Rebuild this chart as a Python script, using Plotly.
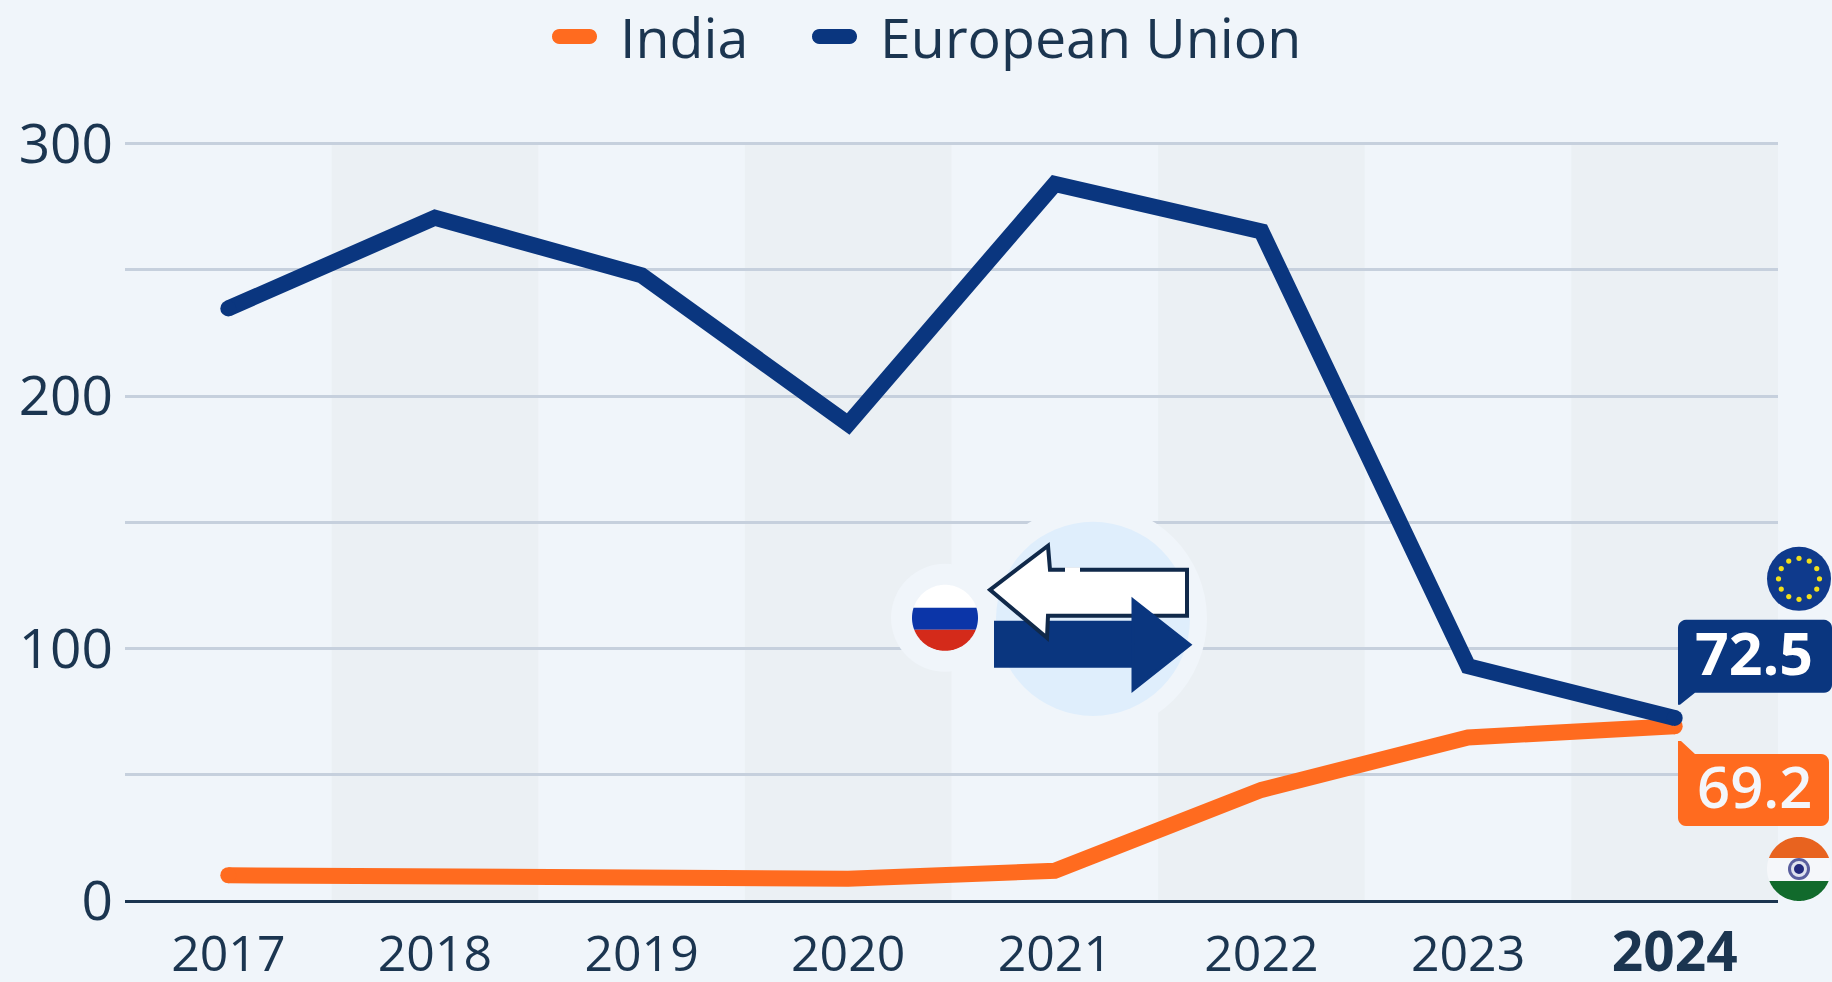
import math
import plotly.graph_objects as go

years = [2017, 2018, 2019, 2020, 2021, 2022, 2023, 2024]
india = [10.2, 9.4, 9.4, 8.8, 12.0, 44.0, 64.8, 69.2]
eu = [234.7, 270.6, 247.8, 188.9, 284.0, 265.2, 93.0, 72.5]
band_years = [2018, 2020, 2022, 2024]
y_ticks = [0, 50, 100, 150, 200, 250, 300]
y_labels = ["0", "", "100", "", "200", "", "300"]
x_labels = ["2017", "2018", "2019", "2020", "2021", "2022", "2023",
            '<b><span style="font-size:55px">2024</span></b>']
last_labels = {"India": "69.2", "European Union": "72.5"}

W, H = 1832, 982
Y_TOP = 301  # a hair above the top gridline so that it is still drawn
L, R, B = 125, 1778, 901
T = B - (B - 144) * Y_TOP / 300
BG = "#f0f5fa"
BAND = "#ebf0f4"
GRID = "#c6d0dd"
INK = "#1b3550"
NAVY = "#0a367f"
ORANGE = "#ff6b1f"
FONT = "Open Sans"


def px(x):
    return (x - L) / (R - L)


def py(y):
    return (B - y) / (B - T)


def path(points, close=True):
    s = "M" + " L".join(f"{px(x):.5f},{py(y):.5f}" for x, y in points)
    return s + (" Z" if close else "")


def shape(points, fill, line=None, lw=0, close=True):
    return dict(type="path", xref="paper", yref="paper", path=path(points, close), layer="above",
                fillcolor=fill if close else "rgba(0,0,0,0)",
                line=dict(color=line or "rgba(0,0,0,0)", width=lw))


def circle(cx, cy, r, fill):
    return dict(type="circle", xref="paper", yref="paper", layer="above", x0=px(cx - r), x1=px(cx + r),
                y0=py(cy + r), y1=py(cy - r), fillcolor=fill, line=dict(width=0))


def band(cx, cy, r, y0, y1, fill):
    """Part of a disc between two horizontal lines."""
    a0 = math.asin(max(-1, min(1, (y0 - cy) / r)))
    a1 = math.asin(max(-1, min(1, (y1 - cy) / r)))
    n = 40
    right = [a0 + (a1 - a0) * i / n for i in range(n + 1)]
    pts = [(cx + r * math.cos(a), cy + r * math.sin(a)) for a in right]
    pts += [(cx - r * math.cos(a), cy + r * math.sin(a)) for a in reversed(right)]
    return shape(pts, fill)


def rounded(x0, y0, x1, y1, r, fill, tail=None, tail_side="bottom"):
    pts = []
    def corner(cx, cy, start):
        for i in range(7):
            a = math.radians(start + 15 * i)
            pts.append((cx + r * math.cos(a), cy + r * math.sin(a)))
    corner(x1 - r, y1 - r, 0)
    if tail and tail_side == "bottom":
        pts.extend(tail)
    else:
        corner(x0 + r, y1 - r, 90)
    if tail and tail_side == "top":
        pts.extend(tail)
    else:
        corner(x0 + r, y0 + r, 180)
    corner(x1 - r, y0 + r, 270)
    return shape(pts, fill)


fig = go.Figure()
for name, values, color, lw in [("India", india, ORANGE, 16), ("European Union", eu, NAVY, 16)]:
    sizes = [lw if i in (0, len(values) - 1) else 0 for i in range(len(values))]
    fig.add_trace(go.Scatter(x=years, y=values, name=name, mode="lines+markers", showlegend=False,
                             line=dict(color=color, width=lw),
                             marker=dict(color=color, size=sizes, opacity=1, line=dict(width=0))))

shapes = []
for yr in band_years:
    shapes.append(dict(type="rect", xref="x", yref="y", x0=yr - 0.5, x1=yr + 0.5, y0=0, y1=300,
                       fillcolor=BAND, line=dict(width=0), layer="below"))

# exchange icon
shapes.append(circle(1092, 619, 115, BG))
shapes.append(circle(945, 618, 54, BG))
shapes.append(circle(1093, 619, 97, "#dfeefc"))
shapes.append(band(945, 618, 33, 585, 608, "#ffffff"))
shapes.append(band(945, 618, 33, 608, 630, "#0b35a8"))
shapes.append(band(945, 618, 33, 630, 651, "#d42a1a"))
shapes.append(shape([(995, 622), (1134, 622), (1134, 667), (995, 667)], NAVY, NAVY, 2))
shapes.append(shape([(990, 590), (1048, 546), (1050, 570), (1187, 570), (1187, 616), (1048, 616), (1047, 638)],
                    "#ffffff", "#10294a", 4))
shapes.append(shape([(1065, 570), (1080, 570)], "#ffffff", "#ffffff", 5, close=False))
shapes.append(shape([(1133, 600), (1190, 645), (1133, 690)], NAVY, NAVY, 3))

# flags and callouts
shapes.append(circle(1799, 579, 32, "#0f3a8c"))
shapes.append(rounded(1678, 620, 1832, 693, 8, NAVY, tail=[(1695, 693), (1680, 705), (1678, 705)], tail_side="bottom"))
shapes.append(rounded(1678, 754, 1829, 826, 8, ORANGE, tail=[(1678, 741), (1681, 741), (1695, 754)], tail_side="top"))
shapes.append(band(1799, 869, 32, 837, 858, "#e8631f"))
shapes.append(band(1799, 869, 32, 858, 881, "#f5f7fa"))
shapes.append(band(1799, 869, 32, 881, 901, "#116a2c"))
shapes.append(circle(1799, 869, 11, "#5a5f9e"))
shapes.append(circle(1799, 869, 8, "#dfe2ee"))
shapes.append(circle(1799, 869, 5, "#232a7c"))
for i in range(12):
    a = math.radians(30 * i)
    shapes.append(circle(1799 + 20.5 * math.cos(a), 579 + 20.5 * math.sin(a), 2.6, "#f2df1a"))

# legend keys
for x0, x1, color in [(552, 597, ORANGE), (812, 857, NAVY)]:
    shapes.append(rounded(x0, 29.5, x1, 44.5, 7.4, color))

annotations = [
    dict(text=last_labels["European Union"], xref="paper", yref="paper", x=px(1754), y=py(652), showarrow=False,
         xanchor="center", yanchor="middle", font=dict(family=FONT, size=59, color="#ffffff", weight=700)),
    dict(text=last_labels["India"], xref="paper", yref="paper", x=px(1754), y=py(786), showarrow=False,
         xanchor="center", yanchor="middle", font=dict(family=FONT, size=58, color="#f4f6fa", weight=600)),
]
for label, x_left in [("India", 618), ("European Union", 878)]:
    annotations.append(dict(text=label, xref="paper", yref="paper", x=px(x_left), y=py(37), showarrow=False,
                            xanchor="left", yanchor="middle", font=dict(family=FONT, size=55.5, color=INK)))

fig.update_layout(
    width=W, height=H, margin=dict(l=L, r=W - R, t=T, b=H - B, pad=0),
    paper_bgcolor=BG, plot_bgcolor=BG, showlegend=False, shapes=shapes, annotations=annotations,
    font=dict(family=FONT, color=INK),
    hovermode=False,
    xaxis=dict(range=[years[0] - 0.5, years[-1] + 0.5], tickmode="array", tickvals=years, ticktext=x_labels,
               showgrid=False, zeroline=False, showline=False, ticks="", automargin=False,
               tickfont=dict(size=50, color=INK, family=FONT),
               ticklabelstandoff=19, fixedrange=True),
    yaxis=dict(range=[0, Y_TOP], tickmode="array", tickvals=y_ticks, ticktext=y_labels, showgrid=True,
               gridcolor=GRID, gridwidth=2.5, zeroline=True, zerolinecolor=INK, zerolinewidth=3, showline=False,
               ticks="", automargin=False, tickfont=dict(size=55, color=INK, family=FONT),
               ticklabelstandoff=11, fixedrange=True),
)

fig.write_html("out.html", config=dict(displayModeBar=False),
               post_script="document.body.style.margin='0';document.body.style.overflow='hidden';")
